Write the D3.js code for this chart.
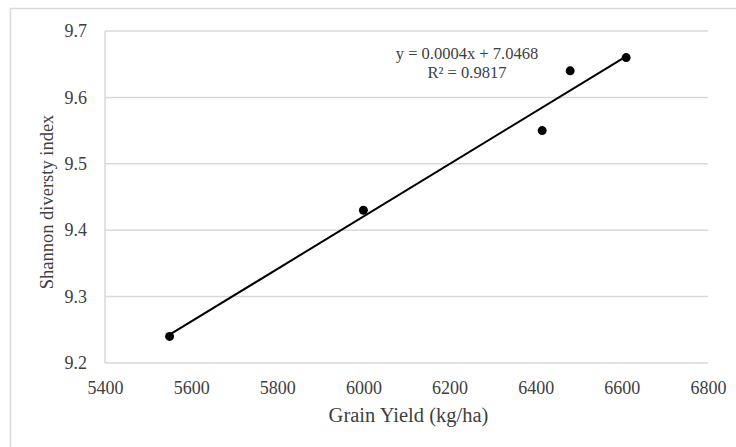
<!DOCTYPE html>
<html>
<head>
<meta charset="utf-8">
<script src="https://cdn.jsdelivr.net/npm/d3@7"></script>
<style>
  body { margin: 0; background: #fff; }
  svg text { font-family: "Liberation Serif", "Times New Roman", serif !important; fill: #404040; }
</style>
</head>
<body>
<div id="chart"></div>
<script>
// ----------------------------------------------------------------
// Data
// ----------------------------------------------------------------

const grainYield = [5550, 6000, 6415, 6480, 6610];
const shannonIndex = [9.24, 9.43, 9.55, 9.64, 9.66];
const xTicks = [5400, 5600, 5800, 6000, 6200, 6400, 6600, 6800];
const yTicks = [9.2, 9.3, 9.4, 9.5, 9.6, 9.7];
const equationLines = ["y = 0.0004x + 7.0468", "R\u00b2 = 0.9817"];

// ----------------------------------------------------------------
// Setup
// ----------------------------------------------------------------

const width = 736;
const height = 447;
const margin = { top: 31, right: 28, bottom: 84, left: 105 };

const svg = d3.select("#chart").append("svg")
  .attr("width", width)
  .attr("height", height);

// chart frame (cropped by the picture on right/bottom)
svg.append("rect")
  .attr("x", 10.5).attr("y", 8.5)
  .attr("width", width).attr("height", height)
  .attr("fill", "#fff")
  .attr("stroke", "#d9d9d9")
  .attr("stroke-width", 1.5);

const x = d3.scaleLinear().domain([5400, 6800]).range([margin.left, width - margin.right]);
const y = d3.scaleLinear().domain([9.2, 9.7]).range([height - margin.bottom, margin.top]);

// gridlines
svg.append("g")
  .selectAll("line")
  .data(yTicks)
  .join("line")
  .attr("x1", x(5400)).attr("x2", x(6800))
  .attr("y1", d => y(d)).attr("y2", d => y(d))
  .attr("stroke", "#d9d9d9")
  .attr("stroke-width", 1.5);

// left axis line
svg.append("line")
  .attr("x1", x(5400)).attr("x2", x(5400))
  .attr("y1", y(9.2)).attr("y2", y(9.7))
  .attr("stroke", "#d9d9d9")
  .attr("stroke-width", 1.5);

// axes (labels only)
const xAxis = svg.append("g")
  .attr("transform", "translate(0," + y(9.2) + ")")
  .call(d3.axisBottom(x).tickValues(xTicks).tickSize(0).tickPadding(18).tickFormat(d3.format("d")));
const yAxis = svg.append("g")
  .attr("transform", "translate(" + x(5400) + ",0)")
  .call(d3.axisLeft(y).tickValues(yTicks).tickSize(0).tickPadding(18).tickFormat(d3.format(".1f")));
[xAxis, yAxis].forEach(function (g) {
  g.attr("font-family", null).attr("font-size", null);
  g.select(".domain").remove();
  g.selectAll("text")
    .style("font-size", "18px")
    .attr("fill", "#404040");
});

// axis titles
svg.append("text")
  .attr("x", (x(5400) + x(6800)) / 2 + 2)
  .attr("y", 422)
  .attr("text-anchor", "middle")
  .style("font-size", "20.5px")
  .text("Grain Yield (kg/ha)");

svg.append("text")
  .attr("transform", "translate(53,202) rotate(-90)")
  .attr("text-anchor", "middle")
  .style("font-size", "18.5px")
  .text("Shannon diversty index");

// ----------------------------------------------------------------
// Trendline (least squares over the data range)
// ----------------------------------------------------------------

const mx = d3.mean(grainYield);
const my = d3.mean(shannonIndex);
const slope = d3.sum(grainYield, (v, i) => (v - mx) * (shannonIndex[i] - my)) /
  d3.sum(grainYield, v => (v - mx) * (v - mx));
const intercept = my - slope * mx;
const xExtent = d3.extent(grainYield);

svg.append("line")
  .attr("x1", x(xExtent[0])).attr("y1", y(intercept + slope * xExtent[0]))
  .attr("x2", x(xExtent[1])).attr("y2", y(intercept + slope * xExtent[1]))
  .attr("stroke", "#000")
  .attr("stroke-width", 2);

// points
svg.append("g")
  .selectAll("circle")
  .data(grainYield)
  .join("circle")
  .attr("cx", d => x(d))
  .attr("cy", (d, i) => y(shannonIndex[i]))
  .attr("r", 4.5)
  .attr("fill", "#000");

// equation label
svg.append("g")
  .selectAll("text")
  .data(equationLines)
  .join("text")
  .attr("x", 467)
  .attr("y", (d, i) => 59 + i * 19)
  .attr("text-anchor", "middle")
  .style("font-size", "16.5px")
  .text(d => d);
</script>
</body>
</html>
